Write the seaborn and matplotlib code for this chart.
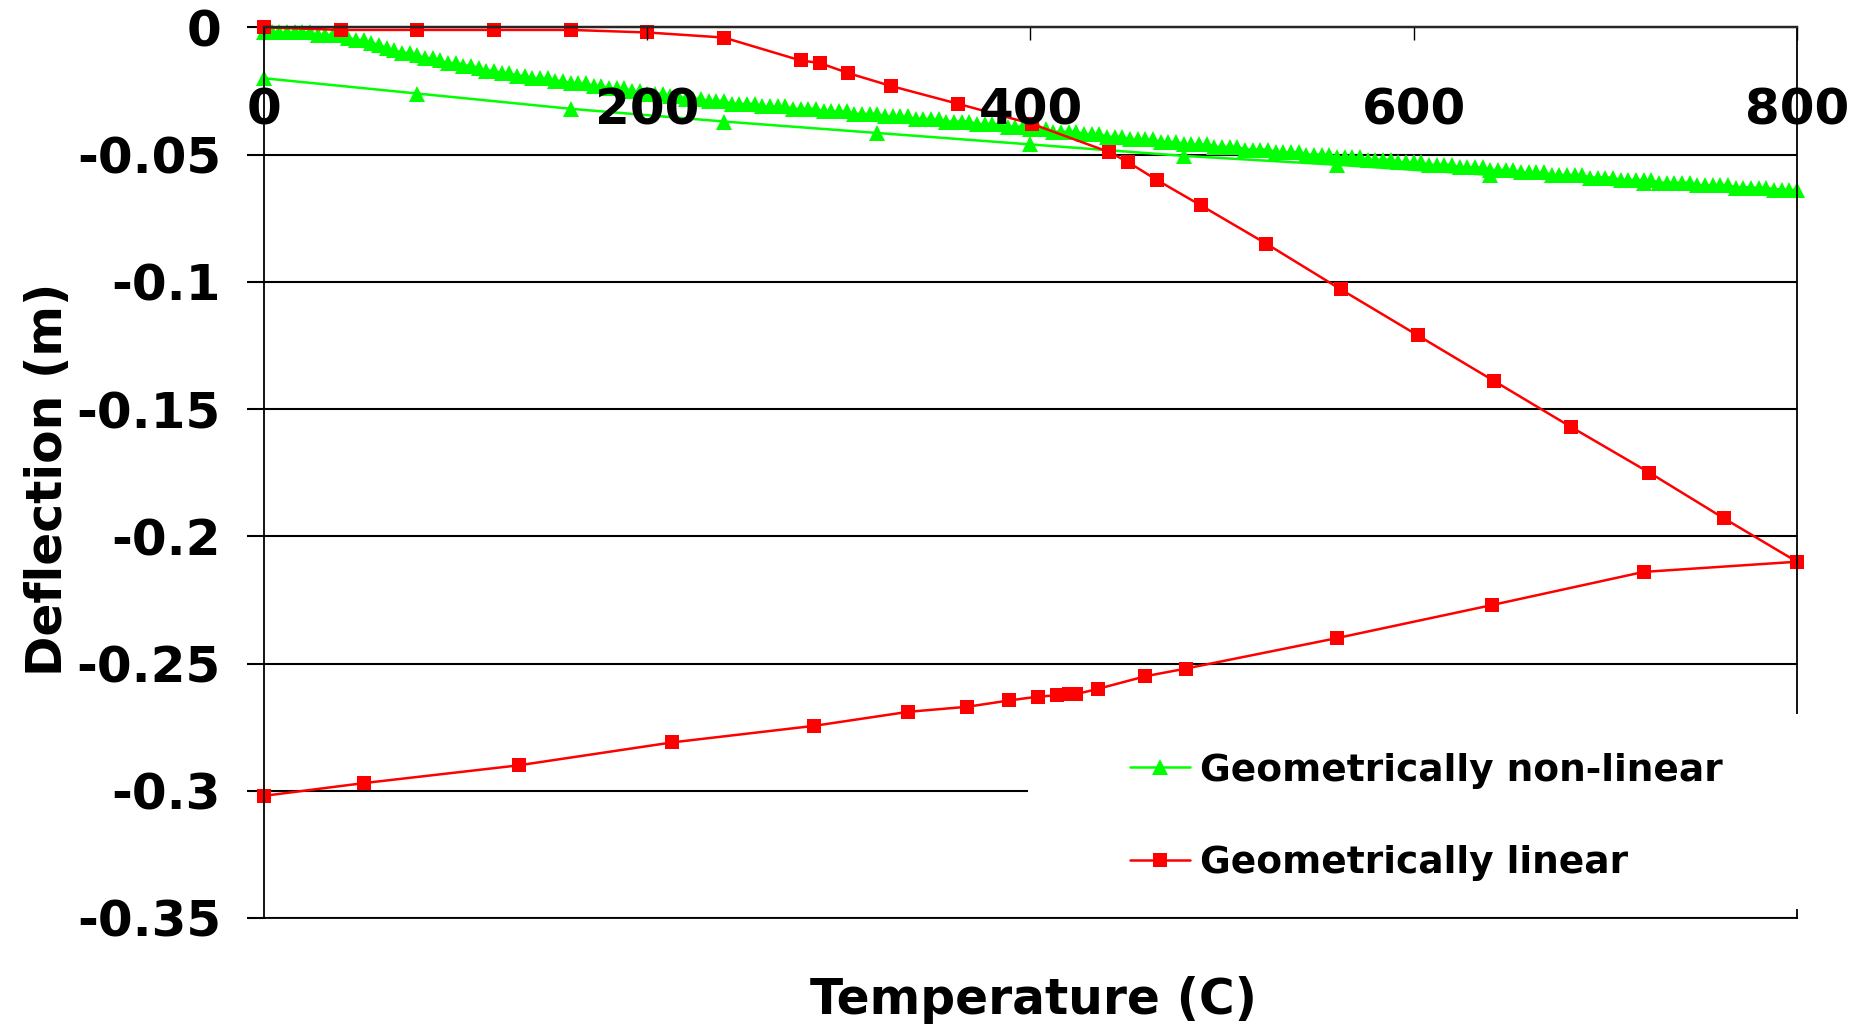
import pandas as pd
from matplotlib import pyplot as plt
from matplotlib.patches import Rectangle
from matplotlib.ticker import FuncFormatter
import seaborn as sns

# geometrically non-linear run: heating in 4 C steps, then cooling in 80 C steps
green_up_temp = [
    0, 4, 8, 12, 16, 20, 24, 28, 32, 36, 40, 44, 48, 52, 56, 60, 64, 68, 72, 76,
    80, 84, 88, 92, 96, 100, 104, 108, 112, 116, 120, 124, 128, 132, 136, 140, 144, 148, 152, 156,
    160, 164, 168, 172, 176, 180, 184, 188, 192, 196, 200, 204, 208, 212, 216, 220, 224, 228, 232, 236,
    240, 244, 248, 252, 256, 260, 264, 268, 272, 276, 280, 284, 288, 292, 296, 300, 304, 308, 312, 316,
    320, 324, 328, 332, 336, 340, 344, 348, 352, 356, 360, 364, 368, 372, 376, 380, 384, 388, 392, 396,
    400, 404, 408, 412, 416, 420, 424, 428, 432, 436, 440, 444, 448, 452, 456, 460, 464, 468, 472, 476,
    480, 484, 488, 492, 496, 500, 504, 508, 512, 516, 520, 524, 528, 532, 536, 540, 544, 548, 552, 556,
    560, 564, 568, 572, 576, 580, 584, 588, 592, 596, 600, 604, 608, 612, 616, 620, 624, 628, 632, 636,
    640, 644, 648, 652, 656, 660, 664, 668, 672, 676, 680, 684, 688, 692, 696, 700, 704, 708, 712, 716,
    720, 724, 728, 732, 736, 740, 744, 748, 752, 756, 760, 764, 768, 772, 776, 780, 784, 788, 792, 796,
    800]
green_up_defl = [
    -0.002, -0.002, -0.002, -0.002, -0.002, -0.002, -0.002, -0.003, -0.003, -0.003,
    -0.003, -0.004, -0.005, -0.005, -0.006, -0.007, -0.008, -0.009, -0.010, -0.010,
    -0.011, -0.012, -0.012, -0.013, -0.014, -0.014, -0.015, -0.015, -0.016, -0.017,
    -0.017, -0.018, -0.018, -0.019, -0.019, -0.020, -0.020, -0.020, -0.021, -0.021,
    -0.022, -0.022, -0.022, -0.023, -0.023, -0.024, -0.024, -0.024, -0.025, -0.025,
    -0.026, -0.026, -0.026, -0.027, -0.027, -0.028, -0.028, -0.028, -0.029, -0.029,
    -0.029, -0.030, -0.030, -0.030, -0.030, -0.031, -0.031, -0.031, -0.031, -0.032,
    -0.032, -0.032, -0.032, -0.033, -0.033, -0.033, -0.033, -0.034, -0.034, -0.034,
    -0.034, -0.035, -0.035, -0.035, -0.035, -0.036, -0.036, -0.036, -0.036, -0.037,
    -0.037, -0.037, -0.037, -0.038, -0.038, -0.038, -0.038, -0.039, -0.039, -0.039,
    -0.040, -0.040, -0.040, -0.041, -0.041, -0.041, -0.041, -0.042, -0.042, -0.042,
    -0.043, -0.043, -0.043, -0.044, -0.044, -0.044, -0.044, -0.045, -0.045, -0.045,
    -0.046, -0.046, -0.046, -0.046, -0.047, -0.047, -0.047, -0.047, -0.048, -0.048,
    -0.048, -0.048, -0.049, -0.049, -0.049, -0.049, -0.050, -0.050, -0.050, -0.050,
    -0.051, -0.051, -0.051, -0.051, -0.052, -0.052, -0.052, -0.052, -0.053, -0.053,
    -0.053, -0.053, -0.054, -0.054, -0.054, -0.054, -0.055, -0.055, -0.055, -0.055,
    -0.056, -0.056, -0.056, -0.056, -0.057, -0.057, -0.057, -0.057, -0.058, -0.058,
    -0.058, -0.058, -0.058, -0.059, -0.059, -0.059, -0.059, -0.060, -0.060, -0.060,
    -0.060, -0.060, -0.061, -0.061, -0.061, -0.061, -0.061, -0.062, -0.062, -0.062,
    -0.062, -0.062, -0.063, -0.063, -0.063, -0.063, -0.063, -0.064, -0.064, -0.064,
    -0.064]
green_down_temp = [720, 640, 560, 480, 400, 320, 240, 160, 80, 0]
green_down_defl = [-0.061, -0.058, -0.054, -0.0505, -0.046, -0.0415, -0.037, -0.032, -0.026, -0.020]

# geometrically linear run
red_up_temp = [0, 40, 80, 120, 160, 200, 240, 280, 290, 305, 327, 362, 401, 441, 451, 466, 489,
               523, 562, 602, 642, 682, 723, 762, 800]
red_up_defl = [0.0, -0.001, -0.001, -0.001, -0.001, -0.002, -0.004, -0.013, -0.014, -0.018, -0.023,
               -0.030, -0.038, -0.049, -0.053, -0.060, -0.070, -0.085, -0.103, -0.121, -0.139,
               -0.157, -0.175, -0.193, -0.210]
red_down_temp = [720, 641, 560, 481, 460, 435, 424, 420, 414, 404, 389, 367, 336, 287, 213, 133, 52, 0]
red_down_defl = [-0.214, -0.227, -0.240, -0.252, -0.255, -0.260, -0.262, -0.262, -0.2625, -0.263,
                 -0.2645, -0.267, -0.269, -0.2745, -0.281, -0.290, -0.297, -0.302]

x_ticks = [0, 200, 400, 600, 800]
y_ticks = [0, -0.05, -0.1, -0.15, -0.2, -0.25, -0.3, -0.35]

df_green = pd.DataFrame({'temp': green_up_temp + green_down_temp,
                         'defl': green_up_defl + green_down_defl})
df_red = pd.DataFrame({'temp': red_up_temp + red_down_temp,
                       'defl': red_up_defl + red_down_defl})

sns.set_style('white')
plt.rcParams['font.family'] = ['DejaVu Sans']
plt.rcParams['font.weight'] = 'bold'
plt.rcParams['axes.unicode_minus'] = False
plt.rcParams['text.color'] = 'black'
plt.rcParams['axes.labelcolor'] = 'black'
plt.rcParams['xtick.color'] = 'black'
plt.rcParams['ytick.color'] = 'black'

fig, ax = plt.subplots(figsize=(18.66, 10.29), dpi=100)
fig.subplots_adjust(left=0.1415, right=0.963, bottom=0.1079, top=0.9734)

sns.lineplot(data=df_green, x='temp', y='defl', sort=False, estimator=None, ax=ax,
             color='#00ff00', linewidth=1.8, marker='^', markersize=11.5, markeredgewidth=0,
             label='Geometrically non-linear', clip_on=False)
sns.lineplot(data=df_red, x='temp', y='defl', sort=False, estimator=None, ax=ax,
             color='#ff0000', linewidth=1.8, marker='s', markersize=9.5, markeredgewidth=0,
             label='Geometrically linear', clip_on=False)

ax.set_xlim(0, 800)
ax.set_ylim(-0.35, 0)
ax.set_yticks(y_ticks)
ax.yaxis.set_major_formatter(FuncFormatter(lambda v, p: '{:g}'.format(v)))

ax.set_axisbelow(True)
ax.grid(axis='y', color='black', linewidth=1.5)
ax.grid(axis='x', visible=False)
for side in ['left', 'right', 'bottom', 'top']:
    ax.spines[side].set_color('black')
    ax.spines[side].set_linewidth(1.3)
ax.spines['top'].set_linewidth(1.6)

ax.tick_params(axis='x', top=False, bottom=False, labeltop=False, labelbottom=False)
ax.tick_params(axis='y', which='major', left=True, direction='out', length=12, width=1.5,
               color='black', pad=19, labelsize=36)

# x labels sit just under the axis at y=0, inside the plot and above the data (Excel style)
secax = ax.secondary_xaxis('top')
secax.set_zorder(3)
secax.set_xticks(x_ticks)
secax.spines['top'].set_linewidth(1.6)
secax.tick_params(axis='x', direction='in', length=9, width=1, color='black', pad=-60,
                  labelsize=36)
for lbl in secax.get_xticklabels():
    lbl.set_verticalalignment('center')

ax.set_xlabel('Temperature (C)', fontsize=35, fontweight='bold')
ax.set_ylabel('Deflection (m)', fontsize=35, fontweight='bold')
ax.xaxis.set_label_coords(0.502, -0.0657)
ax.yaxis.set_label_coords(-0.1256, 0.492)

# white legend area covering the lower right of the plot
ax.add_patch(Rectangle((0.4984, 0.01), 0.52, 0.219, transform=ax.transAxes, facecolor='white',
                       edgecolor='none', zorder=2.6, clip_on=False))
ax.legend(loc='center left', bbox_to_anchor=(0.565, 0.1137), frameon=False, fontsize=27,
          handlelength=1.6, handletextpad=0.25, labelspacing=1.5, borderpad=0, borderaxespad=0)

plt.savefig('out.png', dpi=100)
